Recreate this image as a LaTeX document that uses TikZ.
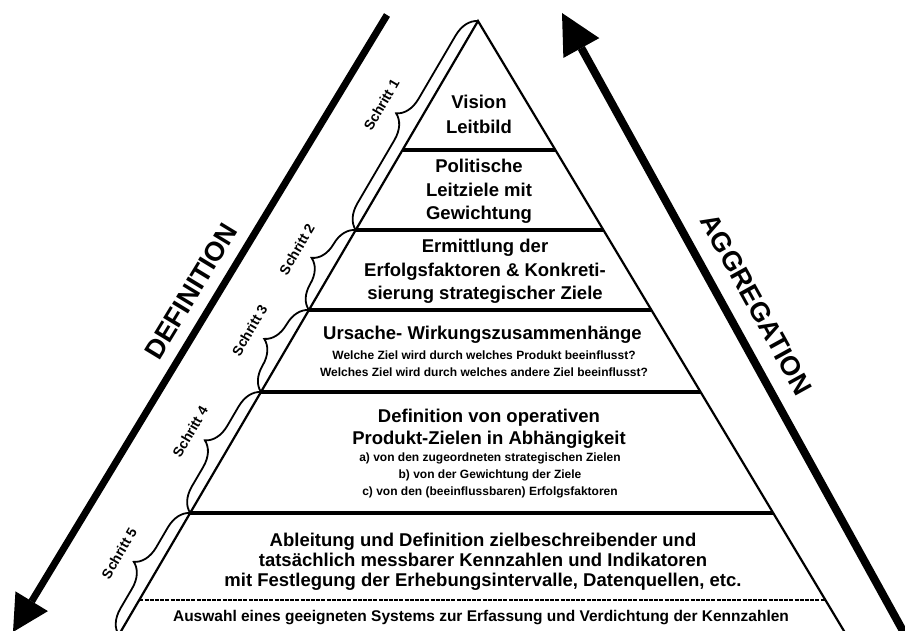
\documentclass[tikz,border=0pt]{standalone}
\usepackage{fontspec}
\setmainfont{Liberation Sans}
\usetikzlibrary{decorations.pathreplacing}

\begin{document}
\begin{tikzpicture}[x=1pt,y=1pt,yscale=-1,xscale=1,
	level line/.style={line width=3.6pt},
	edge line/.style={line width=2.2pt},
	schritt brace/.style={decorate,decoration={brace,amplitude=24pt},line width=1.8pt},
	schritt label/.style={font=\bfseries\fontsize{14}{15}\selectfont,rotate=59.7,inner sep=0pt},
	big text/.style={font=\bfseries\fontsize{18.5}{23.5}\selectfont,align=center,inner sep=0pt},
	small text/.style={font=\bfseries\fontsize{12}{17}\selectfont,align=center,inner sep=0pt},
	side label/.style={font=\bfseries\fontsize{27}{30}\selectfont,inner sep=0pt}]
				\useasboundingbox (0,0) rectangle (905,631);
				\clip (0,0) rectangle (905,631);
				
				% Pyramid corners and level points
				\coordinate (apex) at (478,21);
				\coordinate (lft1) at (402.5,150); \coordinate (rgt1) at (555.4,150);
				\coordinate (lft2) at (355.7,230); \coordinate (rgt2) at (603.4,230);
				\coordinate (lft3) at (308.9,310); \coordinate (rgt3) at (651.4,310);
				\coordinate (lft4) at (261,392);   \coordinate (rgt4) at (700.6,392);
				\coordinate (lft5) at (190.2,513); \coordinate (rgt5) at (773.2,513);
				\coordinate (lft6) at (139.3,600); \coordinate (rgt6) at (825.4,600);
				\coordinate (lftEnd) at (118.8,635);
				\coordinate (lftBase) at (117.6,637); \coordinate (rgtBase) at (847.6,637);
				
				% Pyramid
				\draw [edge line] (lftBase) -- (apex) -- (rgtBase) ;
				\draw [level line] (lft1) -- (rgt1) ;
				\draw [level line] (lft2) -- (rgt2) ;
				\draw [level line] (lft3) -- (rgt3) ;
				\draw [level line] (lft4) -- (rgt4) ;
				\draw [level line] (lft5) -- (rgt5) ;
				\draw [line width=2pt, dash pattern=on 4pt off 1.2pt] (lft6) -- (rgt6) ;
				
				% Text Node
				\node [big text] (vision) at (479,114.5) {Vision\\[1.5pt]Leitbild};
				% Text Node
				\node [big text] (leitziele) at (479,191.5) {Politische\\Leitziele mit\\Gewichtung};
				% Text Node
				\node [big text] (ermittlung) at (485,271.5) {Ermittlung der\\Erfolgsfaktoren \& Konkreti-\\sierung strategischer Ziele};
				% Text Node
				\node [big text] (ursache) at (482.5,335) {Ursache- Wirkungszusammenhänge};
				% Text Node
				\node [small text] (ursacheText) at (484,363.5) {Welche Ziel wird durch welches Produkt beeinflusst?\\Welches Ziel wird durch welches andere Ziel beeinflusst?};
				% Text Node
				\node [big text, font=\bfseries\fontsize{18.5}{22}\selectfont] (produktziele) at (489,429) {Definition von operativen\\Produkt-Zielen in Abhängigkeit};
				% Text Node
				\node [small text] (produktText) at (490,475) {a) von den zugeordneten strategischen Zielen\\b) von der Gewichtung der Ziele\\c) von den (beeinflussbaren) Erfolgsfaktoren};
				% Text Node
				\node [big text, font=\bfseries\fontsize{18.5}{20}\selectfont] (kennzahlen) at (483,562) {Ableitung und Definition zielbeschreibender und\\tatsächlich messbarer Kennzahlen und Indikatoren\\mit Festlegung der Erhebungsintervalle, Datenquellen, etc.};
				% Text Node
				\node [big text, font=\bfseries\fontsize{15.5}{17}\selectfont] (auswahl) at (481,618) {Auswahl eines geeigneten Systems zur Erfassung und Verdichtung der Kennzahlen};
				
				% Braces
				\draw [schritt brace] (lft2) -- (apex) ;
				\draw [schritt brace] (lft3) -- (lft2) ;
				\draw [schritt brace] (lft4) -- (lft3) ;
				\draw [schritt brace] (lft5) -- (lft4) ;
				\draw [schritt brace] (lftEnd) -- (lft5) ;
				% Text Node
				\node [schritt label] (schritt1) at (381.5,104.8) {Schritt 1};
				\node [schritt label] (schritt2) at (296.9,249.3) {Schritt 2};
				\node [schritt label] (schritt3) at (249.6,330.3) {Schritt 3};
				\node [schritt label] (schritt4) at (190.2,431.8) {Schritt 4};
				\node [schritt label] (schritt5) at (119.1,553.3) {Schritt 5};
				
				% Connection
				\coordinate (defTop) at (387,15);
				\coordinate (defBase) at (31.7,601.3);
				\coordinate (defTip) at (13,632);
				\draw [line width=7pt] (defTop) -- (defBase) ;
				\fill [shift={(defTip)}, rotate=-58.7] (0,0) -- (36,-19) -- (36,19) -- cycle ;
				% Connection
				\coordinate (aggEnd) at (908,640);
				\coordinate (aggBase) at (581.3,48);
				\coordinate (aggTip) at (562,13);
				\draw [line width=8pt] (aggEnd) -- (aggBase) ;
				\fill [shift={(aggTip)}, rotate=61.1] (0,0) -- (40,-20.5) -- (40,20.5) -- cycle ;
				
				% Text Node
				\node [side label, rotate=58.7] (definition) at (191,291) {DEFINITION};
				% Text Node
				\node [side label, rotate=-61.1] (aggregation) at (756.5,304.5) {AGGREGATION};
				
\end{tikzpicture}
\end{document}
